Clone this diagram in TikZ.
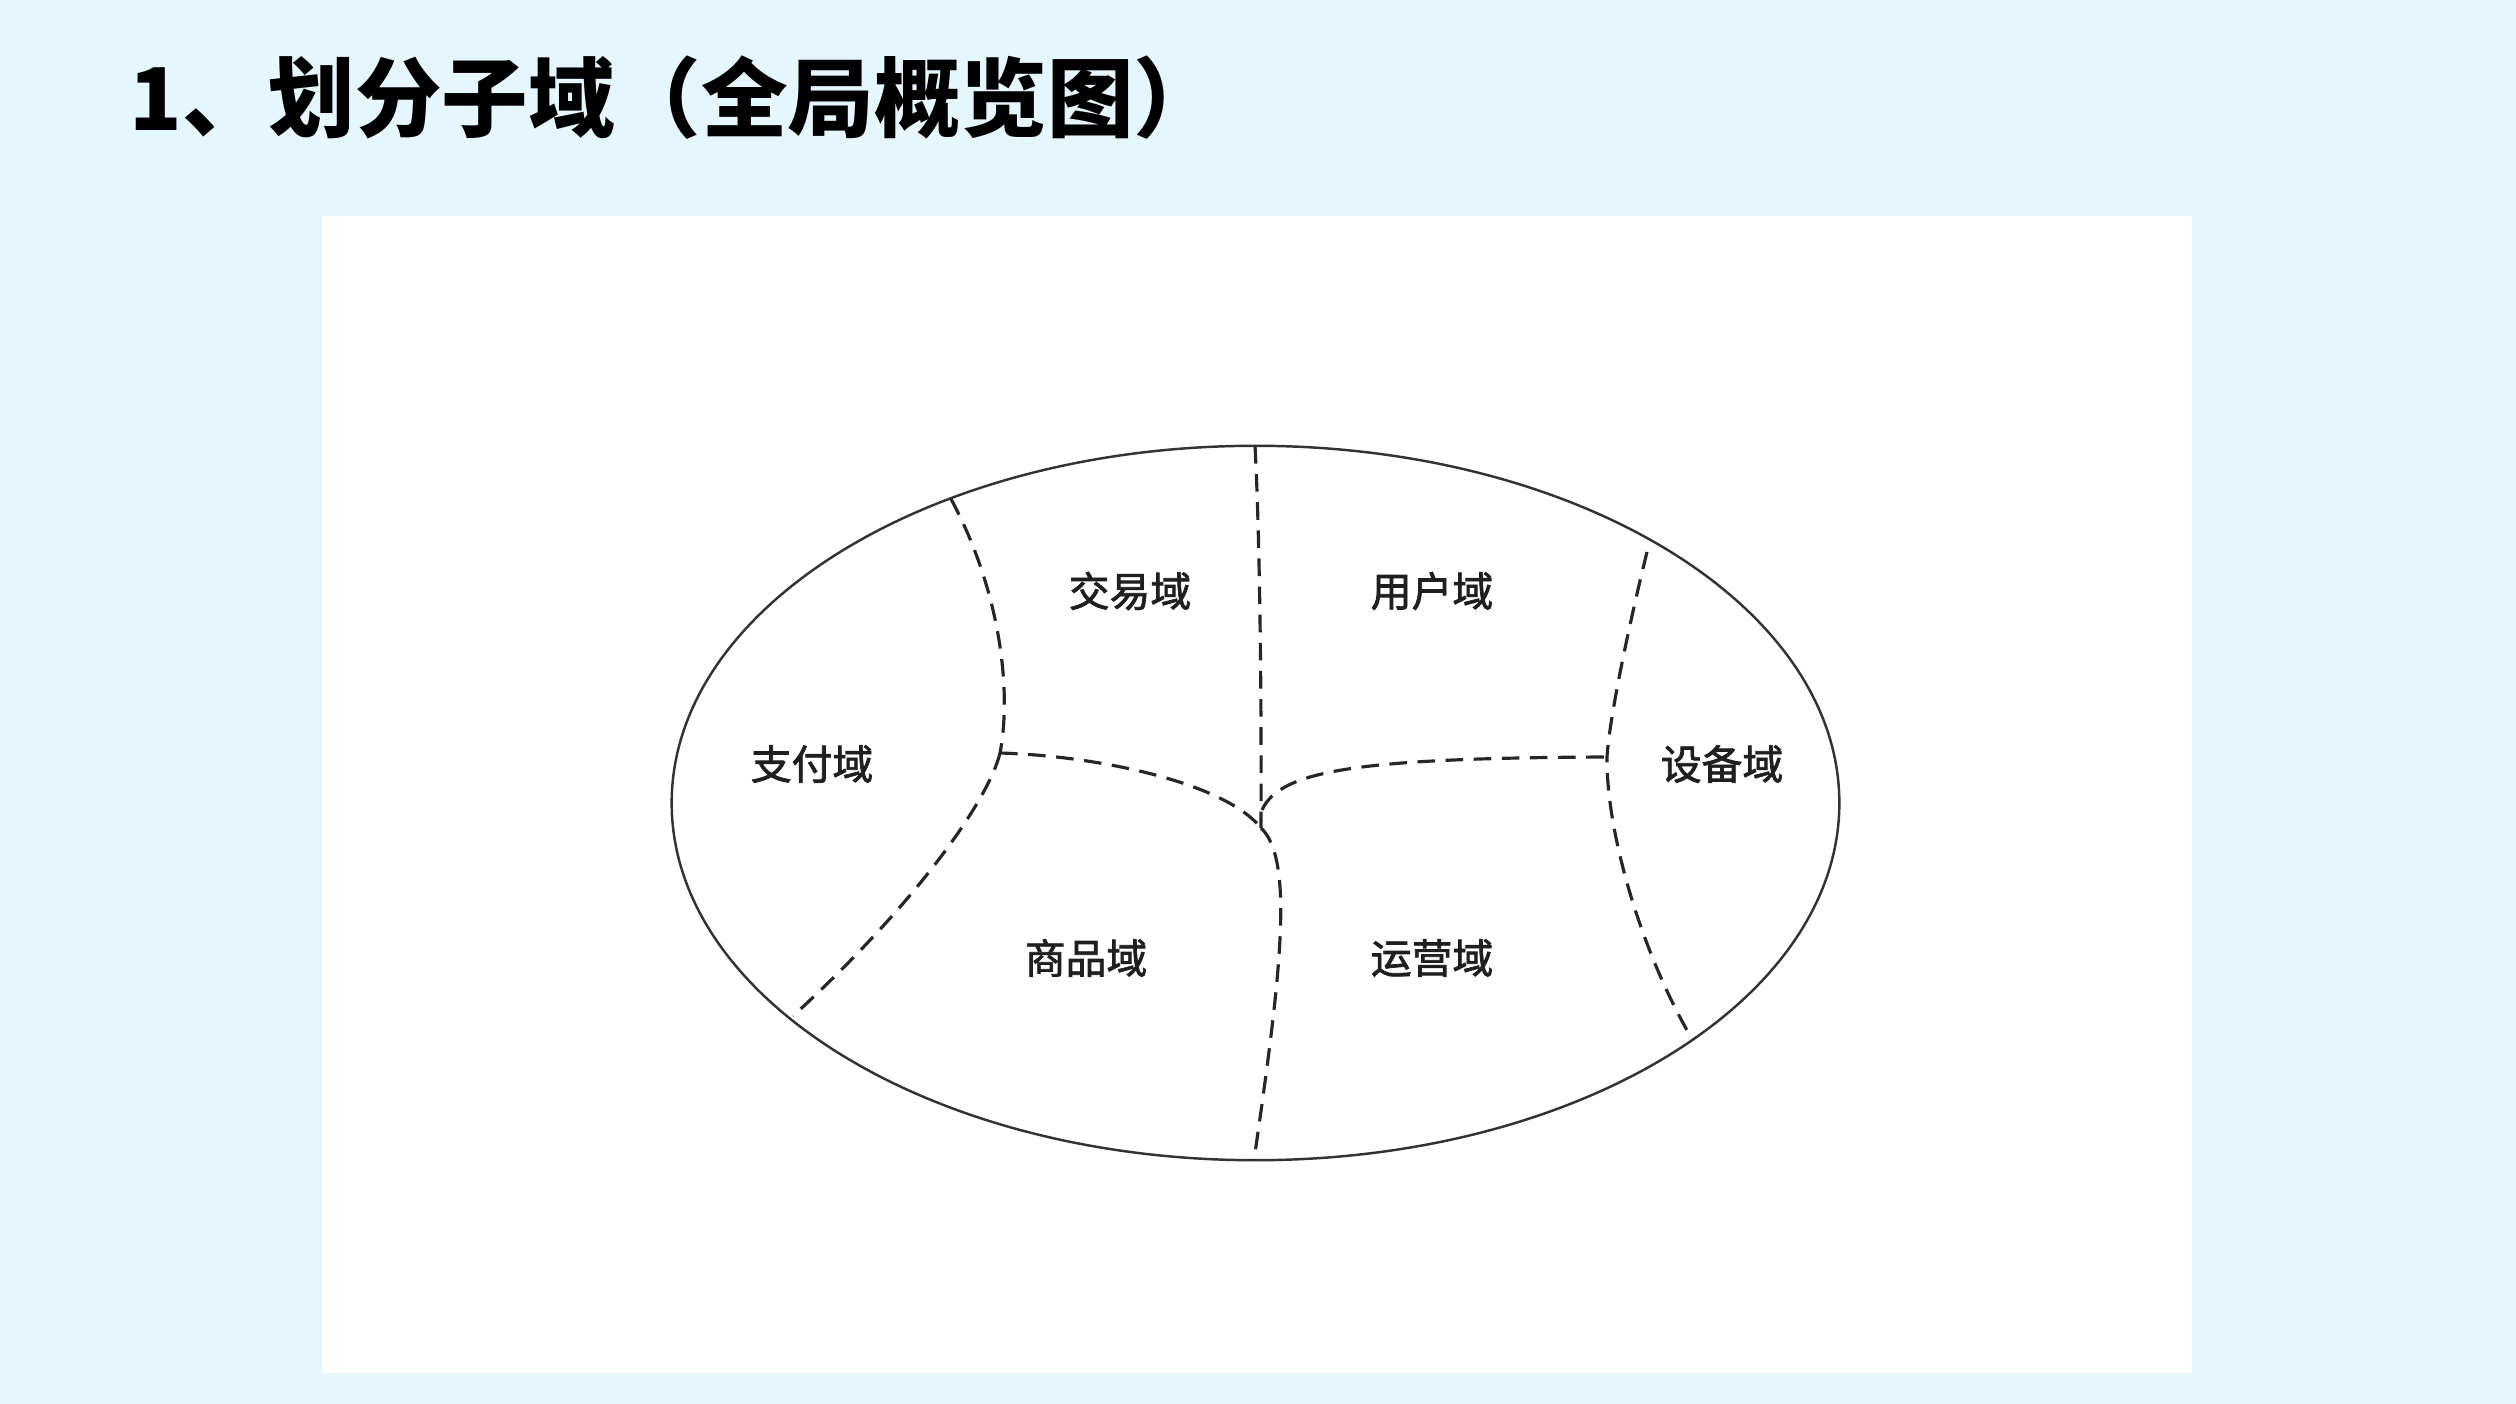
\documentclass[tikz,border=0pt]{standalone}
\usepackage{fontspec}
\setmainfont{Noto Sans CJK SC}
\newfontfamily\cjk{Noto Sans CJK SC}
\newfontfamily\cjkmid[FakeBold=1.8]{Noto Sans CJK SC}
\usepackage{xcolor}
\usepackage{tikz}
\definecolor{bgblue}{HTML}{E5F6FE}
\definecolor{inkgray}{HTML}{333333}

\begin{document}
\begin{tikzpicture}
    [
      x=0.01cm, y=-0.01cm,
      subdomain/.style = {font={\cjkmid\fontsize{11.6}{14}\selectfont}, text=black!88, inner sep=0pt},
      border/.style = {draw=inkgray, line width=0.7pt},
      cut/.style = {draw=black!85, line width=0.9pt, dash pattern=on 5pt off 3pt},
    ]
    \fill[bgblue] (0,0) rectangle (2516,1404);
    \fill[white] (322,216) rectangle (2192,1373);
    \useasboundingbox (0,0) rectangle (2516,1404);

    \node[anchor=base west, inner sep=0pt, font={\cjk\bfseries\fontsize{24.6}{30}\selectfont}] (title) at (129,131) {1、划分子域（全局概览图）};

    \draw[border] (1255.5,803) ellipse [x radius=5.835cm, y radius=3.57cm];

    \coordinate (tvtop) at (1255,446);
    \coordinate (jc) at (1261,828);
    \coordinate (jl) at (1000,753);
    \coordinate (jr) at (1607,757);
    \coordinate (rfork) at (1262,810);
    \coordinate (ltop) at (951,499);
    \coordinate (lbot) at (793,1016);
    \coordinate (rtop) at (1647,552);
    \coordinate (rbot) at (1692,1039);
    \coordinate (bbot) at (1254,1160);

    \draw[cut] (tvtop) .. controls (1260,540) and (1261.5,700) .. (jc);
    \draw[cut] (ltop) .. controls (1000,590) and (1012,690) .. (jl);
    \draw[cut] (jl) .. controls (1100,756) and (1225,783) .. (jc);
    \draw[cut] (rfork) .. controls (1280,770) and (1360,758) .. (jr);
    \draw[cut] (rtop) .. controls (1635,600) and (1610,710) .. (jr)
                      .. controls (1606,830) and (1640,950) .. (rbot);
    \draw[cut] (jc) .. controls (1295,860) and (1280,980) .. (bbot);
    \draw[cut] (jl) .. controls (990,795) and (925,895) .. (lbot);

    \node[subdomain] (trade) at (1130,591) {交易域};
    \node[subdomain] (user) at (1432,591) {用户域};
    \node[subdomain] (pay) at (812,764) {支付域};
    \node[subdomain] (device) at (1722,764) {设备域};
    \node[subdomain] (goods) at (1086,958) {商品域};
    \node[subdomain] (ops) at (1432,958) {运营域};
  \end{tikzpicture}
\end{document}
